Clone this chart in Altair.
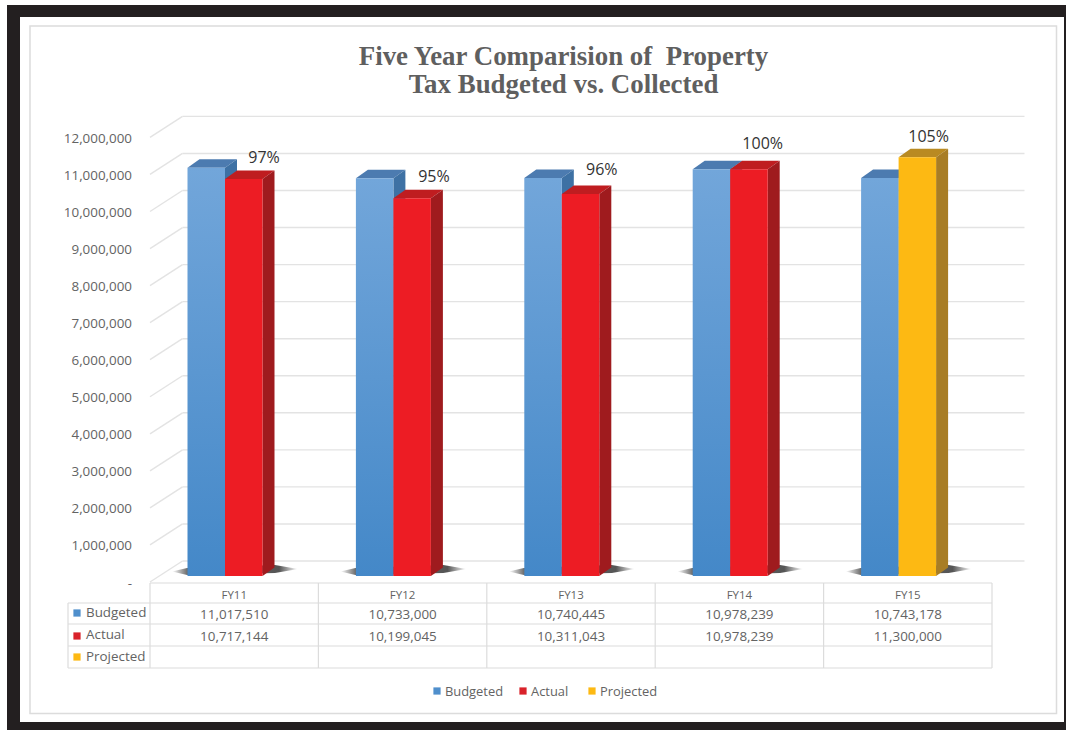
import altair as alt
import pandas as pd

# Chart values
categories = ["FY11", "FY12", "FY13", "FY14", "FY15"]
budgeted = [11017510, 10733000, 10740445, 10978239, 10743178]
actual = [10717144, 10199045, 10311043, 10978239, 11300000]
collected_pct = ["97%", "95%", "96%", "100%", "105%"]
is_projected = [False, False, False, False, True]
axis_ticks = list(range(0, 13000000, 1000000))
title_lines = ["Five Year Comparision of \u00a0Property", "Tax Budgeted vs. Collected"]
row_names = ["Budgeted", "Actual", "Projected"]

W, H = 1066, 730
FONT = "Open Sans"
GREY = "#636363"

# Pixel geometry of the oblique projection
CAT_PX = 168.4        # width of one category
VAL_PX = 37.05 / 1e6  # pixels per unit of value
X0_PX, Y0_PX = 150, 576

def dx(px):
    return px / CAT_PX

def dv(px):
    return px / VAL_PX

x_scale = alt.Scale(domain=[dx(-X0_PX), dx(W - X0_PX)], range=[0, W], nice=False, zero=False)
y_scale = alt.Scale(domain=[dv(Y0_PX - H), dv(Y0_PX)], range=[H, 0], nice=False, zero=False)

X = alt.X("x:Q", scale=x_scale, axis=None)
Y = alt.Y("y:Q", scale=y_scale, axis=None)
X2 = alt.X2("x2:Q")
Y2 = alt.Y2("y2:Q")
PX = alt.X("px:Q", scale=None, axis=None)
PY = alt.Y("py:Q", scale=None, axis=None)

# Bar geometry in category/value units
PAIR = dx(75)        # boundary of a bar pair from the left of its category
BAR = dx(37.5)
DEPTH_X = dx(12)
DEPTH_V = dv(8.5)
WALL_X = dx(32.5)
WALL_V = dv(15)
FRONT_V = dv(-6)

COLORS = {
    "blue": ("#4c7bb0", "#3e71a4"),
    "red": ("#bf1d20", "#9f1b1e"),
    "gold": ("#b98a22", "#a87d25"),
}

def faces(left, value, key, tag):
    top_c, side_c = COLORS[key]
    right = left + BAR
    rows = []
    # top face, as a band between lower and upper edges
    for x, lo, hi in [
        (left, value, value),
        (left + DEPTH_X, value, value + DEPTH_V),
        (right, value, value + DEPTH_V),
        (right + DEPTH_X, value + DEPTH_V, value + DEPTH_V),
    ]:
        rows.append(dict(x=x, y=hi, y2=lo, face=f"{tag}t", fill=top_c))
    # side face
    for x, shift in [(right, 0), (right + DEPTH_X, DEPTH_V)]:
        rows.append(dict(x=x, y=value + shift, y2=shift, face=f"{tag}s", fill=side_c))
    return rows

back_faces, front_faces, fronts_blue, fronts_right, shadow_rows = [], [], [], [], []
for i, cat in enumerate(categories):
    mid = i + PAIR
    back_faces += faces(mid - BAR, budgeted[i], "blue", f"b{i}")
    key = "gold" if is_projected[i] else "red"
    front_faces += faces(mid, actual[i], key, f"a{i}")
    fronts_blue.append(dict(x=mid - BAR, x2=mid, y=budgeted[i], y2=0))
    fronts_right.append(dict(x=mid, x2=mid + BAR, y=actual[i], y2=0,
                             fill="#fdb913" if is_projected[i] else "#ed1c24"))
    for off, hi, lo in [(-53, 4.5, 4.5), (-38, 8, 1), (50, 11, 3), (73, 7, 7)]:
        shadow_rows.append(dict(x=mid + dx(off), y=dv(hi), y2=dv(lo), face=i))

# Frame and plain panel behind the chart
frame = alt.Chart(pd.DataFrame({"k": [0]})).mark_rect(color="#231f20").encode(
    x=alt.value(7), x2=alt.value(1066), y=alt.value(5), y2=alt.value(730))
paper = alt.Chart(pd.DataFrame({"k": [0]})).mark_rect(color="#ffffff").encode(
    x=alt.value(20), x2=alt.value(1064), y=alt.value(17), y2=alt.value(722))
panel = alt.Chart(pd.DataFrame({"k": [0]})).mark_rect(
    fill="#ffffff", stroke="#dcdcdc", strokeWidth=1.5).encode(
    x=alt.value(30), x2=alt.value(1056.5), y=alt.value(26), y2=alt.value(713.5))

# Gridlines: diagonal on the side wall, horizontal on the back wall
grid_rows = []
for t in axis_ticks:
    grid_rows.append(dict(x=0, y=t + FRONT_V, x2=WALL_X, y2=t + WALL_V, k=f"d{t}"))
    grid_rows.append(dict(x=WALL_X, y=t + WALL_V, x2=5 + WALL_X, y2=t + WALL_V, k=f"h{t}"))
grid = alt.Chart(pd.DataFrame(grid_rows)).mark_rule(color="#e3e3e3", strokeWidth=1.4).encode(
    x=X, x2=X2, y=Y, y2=Y2)

tick_labels = alt.Chart(pd.DataFrame({
    "y": [t + FRONT_V + dv(-1.5) for t in axis_ticks],
    "x": [dx(-18)] * len(axis_ticks),
    "t": ["-" if t == 0 else f"{t:,}" for t in axis_ticks],
})).mark_text(align="right", baseline="middle", font=FONT, fontSize=13.4, color=GREY).encode(
    x=X, y=Y, text="t:N")

# Base shadows
shadow = alt.Chart(pd.DataFrame(shadow_rows)).mark_area(
    orient="vertical",
    color=alt.Gradient(
        gradient="linear", x1=0, x2=1, y1=0, y2=0,
        stops=[alt.GradientStop(color="#ffffff", offset=0),
               alt.GradientStop(color="#6e6e6e", offset=0.12),
               alt.GradientStop(color="#555555", offset=0.85),
               alt.GradientStop(color="#ffffff", offset=1)])
).encode(x=X, y=Y, y2=Y2, detail="face:N")

def face_layer(rows):
    return alt.Chart(pd.DataFrame(rows)).mark_area(orient="vertical").encode(
        x=X, y=Y, y2=Y2, color=alt.Color("fill:N", scale=None), detail="face:N")

blue_front = alt.Chart(pd.DataFrame(fronts_blue)).mark_rect(
    color=alt.Gradient(
        gradient="linear", x1=0, x2=0, y1=0, y2=1,
        stops=[alt.GradientStop(color="#72a6da", offset=0),
               alt.GradientStop(color="#4488c8", offset=1)])
).encode(x=X, x2=X2, y=Y, y2=Y2)

right_front = alt.Chart(pd.DataFrame(fronts_right)).mark_rect().encode(
    x=X, x2=X2, y=Y, y2=Y2, color=alt.Color("fill:N", scale=None))

# Percentage labels; small nudges keep them clear of the bars
label_nudge_x = [39, 40.5, 40, 32.5, 30]
label_nudge_y = [21, 21.5, 23.5, 25.5, 20]
pct_labels = alt.Chart(pd.DataFrame({
    "x": [i + PAIR + dx(n) for i, n in enumerate(label_nudge_x)],
    "y": [a + dv(n) for a, n in zip(actual, label_nudge_y)],
    "t": collected_pct,
})).mark_text(align="center", baseline="middle", font=FONT, fontSize=16, color="#333333").encode(
    x=X, y=Y, text="t:N")

# Data table below the plot
row_lines_y = [583, 603, 624, 646, 668]
row_text_y = [596, 615, 637, 658]
swatch_y = [613, 636, 657]
line_rows = []
for j, ly in enumerate(row_lines_y):
    line_rows.append(dict(px=150 if j == 0 else 68, py=ly, px2=150 + 5 * CAT_PX, py2=ly))
for c in range(6):
    lx = 150 + c * CAT_PX
    line_rows.append(dict(px=lx, py=row_lines_y[0], px2=lx, py2=row_lines_y[-1]))
line_rows.append(dict(px=68, py=row_lines_y[1], px2=68, py2=row_lines_y[-1]))
table_lines = alt.Chart(pd.DataFrame(line_rows)).mark_rule(color="#dcdcdc", strokeWidth=1.2).encode(
    x=PX, x2=alt.X2("px2:Q"), y=PY, y2=alt.Y2("py2:Q"))

cell_rows = []
for i, cat in enumerate(categories):
    cx = i + 0.5
    cell_rows.append(dict(x=cx, py=row_text_y[0], t=cat, s=11.5))
    cell_rows.append(dict(x=cx, py=row_text_y[1], t=f"{budgeted[i]:,}", s=13.4))
    cell_rows.append(dict(x=cx, py=row_text_y[2], t=f"{actual[i]:,}", s=13.4))
table_cells = alt.Chart(pd.DataFrame(cell_rows)).mark_text(
    align="center", baseline="middle", font=FONT, color=GREY).encode(
    x=X, y=PY, text="t:N", size=alt.Size("s:Q", scale=None, legend=None))

swatch_colors = ["#4f8fcc", "#d9222a", "#fdb913"]
row_swatches = alt.Chart(pd.DataFrame({
    "px": [77, 77, 77], "py": swatch_y, "c": swatch_colors,
})).mark_square(size=52, opacity=1).encode(x=PX, y=PY, color=alt.Color("c:N", scale=None))
row_labels = alt.Chart(pd.DataFrame({
    "px": [86, 86, 86], "py": [613, 635, 657], "t": row_names,
})).mark_text(align="left", baseline="middle", font=FONT, fontSize=13.4, color=GREY).encode(
    x=PX, y=PY, text="t:N")

# Legend strip
legend_marks = alt.Chart(pd.DataFrame({
    "px": [437, 523, 592], "py": [691] * 3, "c": swatch_colors,
})).mark_square(size=52, opacity=1).encode(x=PX, y=PY, color=alt.Color("c:N", scale=None))
legend_text = alt.Chart(pd.DataFrame({
    "px": [445, 531, 600], "py": [692] * 3, "t": row_names,
})).mark_text(align="left", baseline="middle", font=FONT, fontSize=12.9, color=GREY).encode(
    x=PX, y=PY, text="t:N")

title = alt.Chart(pd.DataFrame({
    "px": [563.5, 563.5], "py": [57, 85], "t": title_lines,
})).mark_text(align="center", baseline="middle", font="Liberation Serif", fontWeight="bold",
              fontSize=26.9, color="#5f5f5f").encode(x=PX, y=PY, text="t:N")

chart = alt.layer(
    frame, paper, panel, grid, tick_labels, shadow,
    face_layer(back_faces), blue_front, face_layer(front_faces), right_front,
    pct_labels, table_lines, table_cells, row_swatches, row_labels,
    legend_marks, legend_text, title,
).resolve_scale(color="independent", size="independent").properties(
    width=W, height=H, padding=0, background="#ffffff",
    autosize=alt.AutoSizeParams(type="none"),
).configure_view(stroke=None)

chart.save("out.html", embed_options={"renderer": "svg", "actions": False})
